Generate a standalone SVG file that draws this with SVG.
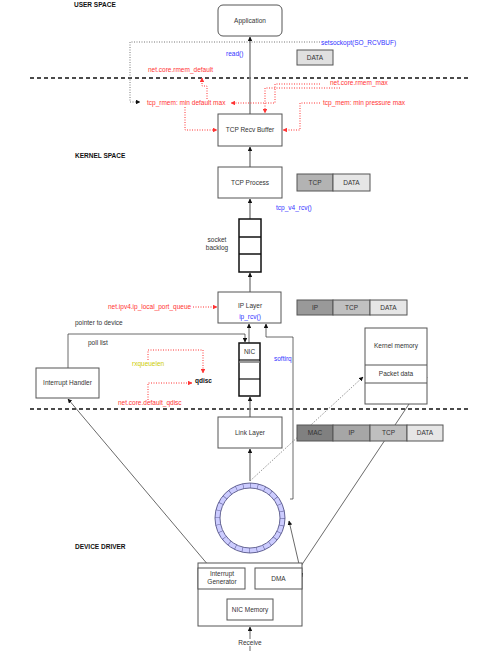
<svg xmlns="http://www.w3.org/2000/svg" width="500" height="651" viewBox="0 0 500 651">
<defs>
<style>
text{font-family:"Liberation Sans",Arial,Helvetica,sans-serif;font-size:6.5px;fill:#333}
.c{text-anchor:middle}
.b{font-weight:bold;fill:#111}
.red{fill:#ff3333}
.blue{fill:#3333ff}
.yel{fill:#cccc00}
.box{fill:#fff;stroke:#555;stroke-width:1}
.q{fill:#fff;stroke:#111;stroke-width:1.5}
.main{fill:none;stroke:#888;stroke-width:1.5}
.thin{fill:none;stroke:#444;stroke-width:0.8}
.rd{fill:none;stroke:#ff3333;stroke-width:1;stroke-dasharray:1 1.5}
.gd{fill:none;stroke:#777;stroke-width:1;stroke-dasharray:1 1.5}
.sep{fill:none;stroke:#111;stroke-width:1.5;stroke-dasharray:4 3}
</style>
<marker id="ab" viewBox="0 0 10 10" refX="9" refY="5" markerWidth="4.5" markerHeight="4.5" orient="auto" markerUnits="userSpaceOnUse"><path d="M0,0 L10,5 L0,10 z" fill="#111"/></marker>
<marker id="ar" viewBox="0 0 10 10" refX="9" refY="5" markerWidth="4.5" markerHeight="4.5" orient="auto" markerUnits="userSpaceOnUse"><path d="M0,0 L10,5 L0,10 z" fill="#ff3333"/></marker>
<marker id="as" viewBox="0 0 10 10" refX="1" refY="5" markerWidth="4.5" markerHeight="4.5" orient="auto" markerUnits="userSpaceOnUse"><path d="M10,0 L0,5 L10,10 z" fill="#111"/></marker>
</defs>
<rect width="500" height="651" fill="#fff"/>

<g id="labels">
<text x="74" y="7" class="b">USER SPACE</text>
<text x="75" y="158" class="b">KERNEL SPACE</text>
<text x="75" y="549" class="b">DEVICE DRIVER</text>
</g>

<g id="separators">
<line x1="30" y1="78" x2="470" y2="78" class="sep"/>
<line x1="30" y1="409" x2="470" y2="409" class="sep"/>
</g>

<g id="connectors">
<line x1="250" y1="114" x2="250" y2="37" class="main" marker-end="url(#ab)"/>
<line x1="250" y1="167" x2="250" y2="147" class="main" marker-end="url(#ab)"/>
<line x1="250" y1="219" x2="250" y2="199" class="main" marker-end="url(#ab)"/>
<line x1="250" y1="292" x2="250" y2="273" class="main" marker-end="url(#ab)"/>
<line x1="249" y1="343" x2="249" y2="324" class="thin" marker-end="url(#ab)"/>
<line x1="250" y1="417" x2="250" y2="397" class="main" marker-end="url(#ab)"/>
<line x1="250" y1="481" x2="250" y2="449" class="main" marker-end="url(#ab)"/>
<path d="M68,368 V334 H245 V342" class="thin" marker-end="url(#ab)"/>
<path d="M290,499 H293 V337 H266 V324" class="thin" marker-end="url(#ab)"/>
<line x1="209" y1="566" x2="68" y2="399" class="thin" marker-end="url(#ab)"/>
<line x1="273" y1="608" x2="427" y2="377" class="thin" marker-end="url(#ab)"/>
<line x1="289" y1="521" x2="302" y2="577" class="thin" marker-start="url(#as)" marker-end="url(#ab)"/>
<line x1="250" y1="651" x2="250" y2="627" class="thin" marker-end="url(#ab)"/>
<line x1="250" y1="481" x2="363" y2="377" class="gd" marker-end="url(#ab)"/>
<path d="M320,42 H130 V102 H140" class="gd" marker-end="url(#ab)"/>
<path d="M207,99 V86 H202 V78" class="rd" marker-end="url(#ar)"/>
<path d="M320,84 H275 V103 H231" class="rd" marker-end="url(#ar)"/>
<path d="M340,88 H265 V113" class="rd" marker-end="url(#ar)"/>
<path d="M320,103 H300 V130 H283" class="rd" marker-end="url(#ar)"/>
<path d="M185,107 V130 H217" class="rd" marker-end="url(#ar)"/>
<line x1="193" y1="307" x2="217" y2="307" class="rd" marker-end="url(#ar)"/>
<path d="M148,360 V350 H203 V373" class="rd" marker-end="url(#ar)"/>
<path d="M148,400 V383 H192" class="rd" marker-end="url(#ar)"/>
</g>

<g id="application">
<rect x="218" y="5" width="64" height="31" rx="5" class="box"/>
<text x="250" y="22.5" class="c">Application</text>
</g>
<g id="data-user">
<rect x="297" y="50" width="36" height="15" fill="#e0e0e0" stroke="#555" stroke-width="1"/>
<text x="315" y="59.5" class="c">DATA</text>
</g>
<g id="texts-top">
<text x="321" y="44.5" class="blue">setsockopt(SO_RCVBUF)</text>
<text x="226" y="56" class="blue">read()</text>
<text x="148" y="72" class="red">net.core.rmem_default</text>
<text x="330" y="85" class="red">net.core.rmem_max</text>
<text x="147" y="105" class="red">tcp_rmem: min default max</text>
<text x="323" y="105" class="red">tcp_mem: min pressure max</text>
</g>
<g id="tcp-recv-buffer">
<rect x="218" y="114" width="64" height="32" class="box"/>
<text x="250" y="132" class="c">TCP Recv Buffer</text>
</g>
<g id="tcp-process">
<rect x="218" y="167" width="64" height="31" class="box"/>
<text x="250" y="184.5" class="c">TCP Process</text>
</g>
<g id="tcp-data">
<rect x="297" y="174" width="36" height="17" fill="#b3b3b3" stroke="#555" stroke-width="1"/>
<rect x="333" y="174" width="37" height="17" fill="#e6e6e6" stroke="#555" stroke-width="1"/>
<text x="315" y="184.5" class="c">TCP</text>
<text x="351.5" y="184.5" class="c">DATA</text>
</g>
<text x="276" y="210" class="blue">tcp_v4_rcv()</text>
<g id="socket-backlog">
<rect x="239" y="219" width="22" height="53" class="q"/>
<line x1="239" y1="237" x2="261" y2="237" stroke="#111" stroke-width="1.5"/>
<line x1="239" y1="254" x2="261" y2="254" stroke="#111" stroke-width="1.5"/>
<text x="217" y="242" class="c">socket</text>
<text x="217" y="249.5" class="c">backlog</text>
</g>
<g id="ip-layer">
<rect x="218" y="292" width="63" height="31" class="box"/>
<text x="250" y="308" class="c">IP Layer</text>
<text x="250" y="318.5" class="c blue">ip_rcv()</text>
</g>
<text x="108" y="309" class="red">net.ipv4.ip_local_port_queue</text>
<g id="ip-tcp-data">
<rect x="297" y="300" width="36" height="15" fill="#999" stroke="#555" stroke-width="1"/>
<rect x="333" y="300" width="37" height="15" fill="#c0c0c0" stroke="#555" stroke-width="1"/>
<rect x="370" y="300" width="37" height="15" fill="#e6e6e6" stroke="#555" stroke-width="1"/>
<text x="315" y="309.5" class="c">IP</text>
<text x="351.5" y="309.5" class="c">TCP</text>
<text x="388.5" y="309.5" class="c">DATA</text>
</g>
<text x="75" y="325">pointer to device</text>
<text x="88" y="345">poll list</text>
<g id="nic-queue">
<rect x="239" y="343" width="21" height="53" class="q"/>
<line x1="239" y1="360" x2="260" y2="360" stroke="#111" stroke-width="1.2"/>
<line x1="239" y1="362" x2="260" y2="362" stroke="#777" stroke-width="1.5"/>
<line x1="239" y1="379" x2="260" y2="379" stroke="#111" stroke-width="1.2"/>
<text x="249.5" y="354" class="c">NIC</text>
</g>
<text x="274" y="361" class="blue">softirq</text>
<text x="132" y="366" class="yel">rxqueuelen</text>
<text x="195" y="382.5" class="b">qdisc</text>
<text x="118" y="405" class="red">net.core.default_qdisc</text>
<g id="interrupt-handler">
<rect x="36" y="368" width="63" height="30" class="box"/>
<text x="67.5" y="385" class="c">Interrupt Handler</text>
</g>
<g id="kernel-memory">
<rect x="365" y="328" width="62" height="76" class="box"/>
<line x1="365" y1="365" x2="427" y2="365" stroke="#555" stroke-width="1"/>
<line x1="365" y1="383" x2="427" y2="383" stroke="#555" stroke-width="1"/>
<text x="396" y="348" class="c">Kernel memory</text>
<text x="396" y="376" class="c">Packet data</text>
</g>
<g id="link-layer">
<rect x="218" y="417" width="64" height="31" class="box"/>
<text x="250" y="434.5" class="c">Link Layer</text>
</g>
<g id="mac-ip-tcp-data">
<rect x="297" y="425" width="36" height="16" fill="#808080" stroke="#555" stroke-width="1"/>
<rect x="333" y="425" width="37" height="16" fill="#a6a6a6" stroke="#555" stroke-width="1"/>
<rect x="370" y="425" width="37" height="16" fill="#bfbfbf" stroke="#555" stroke-width="1"/>
<rect x="407" y="425" width="36" height="16" fill="#e6e6e6" stroke="#555" stroke-width="1"/>
<text x="315" y="435" class="c">MAC</text>
<text x="351.5" y="435" class="c">IP</text>
<text x="388.5" y="435" class="c">TCP</text>
<text x="425" y="435" class="c">DATA</text>
</g>
<g id="ring-buffer">
<circle cx="250" cy="518" r="32.5" fill="#fff" stroke="#ccccff" stroke-width="5"/>
<circle cx="250" cy="518" r="32.5" fill="none" stroke="#6666a0" stroke-width="5" stroke-dasharray="0.6 6.693"/>
<circle cx="250" cy="518" r="35" fill="none" stroke="#555588" stroke-width="0.9"/>
<circle cx="250" cy="518" r="30" fill="none" stroke="#555588" stroke-width="0.9"/>
</g>
<g id="nic-device">
<rect x="198" y="563" width="104" height="63" class="box"/>
<rect x="198" y="568" width="47" height="21" class="box"/>
<text x="222" y="576" class="c">Interrupt</text>
<text x="222" y="584" class="c">Generator</text>
<rect x="255" y="568" width="47" height="21" class="box"/>
<text x="278.5" y="580.5" class="c">DMA</text>
<rect x="227" y="599" width="46" height="21" class="box"/>
<text x="250" y="611.5" class="c">NIC Memory</text>
</g>
<g id="receive">
<rect x="236" y="639" width="28" height="7" fill="#fff"/>
<text x="250" y="645" class="c">Receive</text>
</g>
</svg>
